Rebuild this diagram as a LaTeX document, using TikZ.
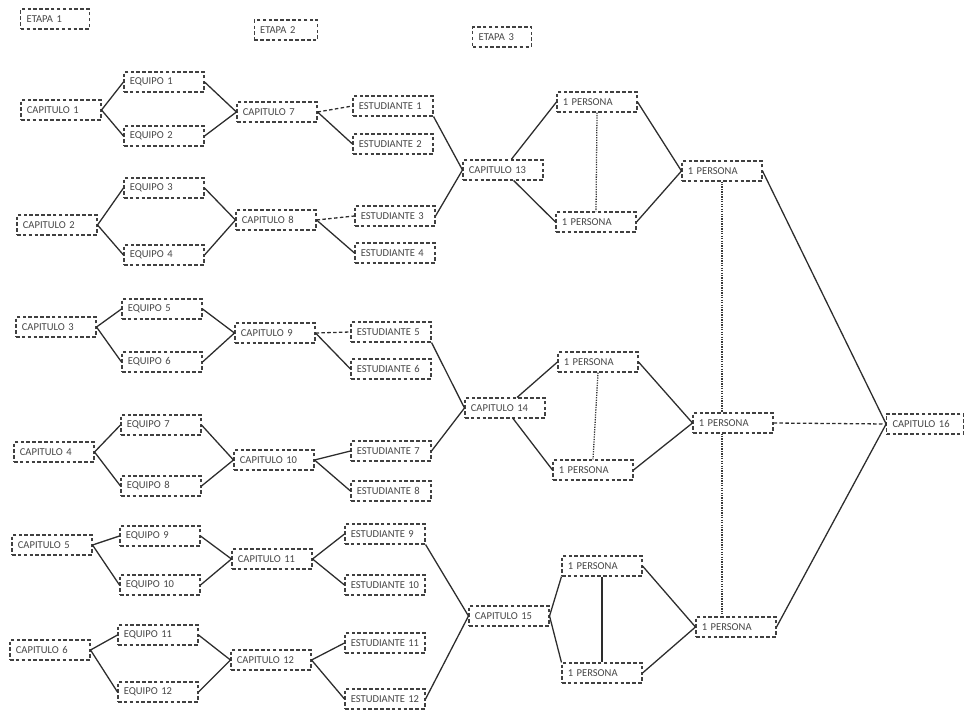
\documentclass[tikz,border=0pt]{standalone}
\usepackage{fontspec}
\setmainfont{Carlito}
\begin{document}
\begin{tikzpicture}[x=0.03cm,y=-0.03cm,
  caja/.style={draw=gray!50!black,densely dashed,line width=0.9pt,fill=white,text=gray!55!black,font=\small,
    text width=2.05cm,align=left,inner xsep=0.175cm,minimum height=0.6cm},
  etapa/.style={caja,text width=#1},
  linea/.style={draw=gray!35!black,line width=1.1pt},
  guiones/.style={linea,densely dashed},
  puntos/.style={draw=gray!45!black,line width=1.1pt,densely dotted}]
\useasboundingbox (0,0) rectangle (965,713);
% etapas
\node[etapa=1.7cm] (et1) at (55,19) {ETAPA 1};
\node[etapa=1.55cm] (et2) at (286,30) {ETAPA 2};
\node[etapa=1.4cm] (et3) at (502,37) {ETAPA 3};
% capitulos 1-6
\node[caja] (c1) at (61,110) {CAPITULO 1};
\node[caja] (c2) at (57,225) {CAPITULO 2};
\node[caja] (c3) at (56,327) {CAPITULO 3};
\node[caja] (c4) at (54,452) {CAPITULO 4};
\node[caja] (c5) at (52,545) {CAPITULO 5};
\node[caja] (c6) at (50,650) {CAPITULO 6};
% equipos
\node[caja] (q1) at (164,82) {EQUIPO 1};
\node[caja] (q2) at (164,136) {EQUIPO 2};
\node[caja] (q3) at (164,188) {EQUIPO 3};
\node[caja] (q4) at (164,255) {EQUIPO 4};
\node[caja] (q5) at (162,309) {EQUIPO 5};
\node[caja] (q6) at (162,362) {EQUIPO 6};
\node[caja] (q7) at (161,425) {EQUIPO 7};
\node[caja] (q8) at (161,486) {EQUIPO 8};
\node[caja] (q9) at (160,536) {EQUIPO 9};
\node[caja] (q10) at (160,585) {EQUIPO 10};
\node[caja] (q11) at (158,635) {EQUIPO 11};
\node[caja] (q12) at (158,692) {EQUIPO 12};
% capitulos 7-12
\node[caja] (c7) at (277,112) {CAPITULO 7};
\node[caja] (c8) at (276,220) {CAPITULO 8};
\node[caja] (c9) at (275,333) {CAPITULO 9};
\node[caja] (c10) at (274,460) {CAPITULO 10};
\node[caja] (c11) at (272,559) {CAPITULO 11};
\node[caja] (c12) at (271,660) {CAPITULO 12};
% estudiantes
\node[caja] (e1) at (393,106) {ESTUDIANTE 1};
\node[caja] (e2) at (393,144) {ESTUDIANTE 2};
\node[caja] (e3) at (395,216) {ESTUDIANTE 3};
\node[caja] (e4) at (395,253) {ESTUDIANTE 4};
\node[caja] (e5) at (391,332) {ESTUDIANTE 5};
\node[caja] (e6) at (391,369) {ESTUDIANTE 6};
\node[caja] (e7) at (391,451) {ESTUDIANTE 7};
\node[caja] (e8) at (391,491) {ESTUDIANTE 8};
\node[caja] (e9) at (385,534) {ESTUDIANTE 9};
\node[caja] (e10) at (385,585) {ESTUDIANTE 10};
\node[caja] (e11) at (385,643) {ESTUDIANTE 11};
\node[caja] (e12) at (385,699) {ESTUDIANTE 12};
% capitulos 13-15
\node[caja] (c13) at (503,170) {CAPITULO 13};
\node[caja] (c14) at (505,408) {CAPITULO 14};
\node[caja] (c15) at (509,616) {CAPITULO 15};
% personas
\node[caja] (p1) at (597,102) {1 PERSONA};
\node[caja] (p2) at (596,222) {1 PERSONA};
\node[caja] (p3) at (598,362) {1 PERSONA};
\node[caja] (p4) at (593,470) {1 PERSONA};
\node[caja] (p5) at (602,566) {1 PERSONA};
\node[caja] (p6) at (602,673) {1 PERSONA};
\node[caja] (pa) at (722,171) {1 PERSONA};
\node[caja] (pb) at (733,423) {1 PERSONA};
\node[caja] (pc) at (736,627) {1 PERSONA};
\node[caja,text width=1.95cm] (c16) at (925,424) {CAPITULO 16};
% etapa 1
\foreach \c/\a/\b/\d in {c1/q1/q2/c7,c2/q3/q4/c8,c3/q5/q6/c9,c4/q7/q8/c10,c5/q9/q10/c11,c6/q11/q12/c12}{
  \draw[linea] (\c.east) -- (\a.west);
  \draw[linea] (\c.east) -- (\b.west);
  \draw[linea] (\a.east) -- (\d.west);
  \draw[linea] (\b.east) -- (\d.west);
}
% etapa 2
\foreach \c/\a/\b in {c7/e1/e2,c8/e3/e4,c9/e5/e6}{
  \draw[guiones] (\c.east) -- (\a.west);
  \draw[linea] (\c.east) -- (\b.west);
}
\foreach \c/\a/\b in {c10/e7/e8,c11/e9/e10,c12/e11/e12}{
  \draw[linea] (\c.east) -- (\a.west);
  \draw[linea] (\c.east) -- (\b.west);
}
\draw[linea] (e1.south east) -- (c13.west);
\draw[linea] (e3.east) -- (c13.west);
\draw[linea] (e5.south east) -- (c14.west);
\draw[linea] (e7.east) -- (c14.west);
\draw[linea] (e9.south east) -- (c15.west);
\draw[linea] (e12.east) -- (c15.west);
% etapa 3
\draw[linea] (c13) -- (p1.west);
\draw[linea] (c13) -- (p2.west);
\draw[linea] (c14) -- (p3.west);
\draw[linea] (c14) -- (p4.west);
\draw[linea] (c15.east) -- (p5.south west);
\draw[linea] (c15.east) -- (p6.north west);
\draw[linea] (p1.east) -- (pa.west);
\draw[linea] (p2.east) -- (pa.west);
\draw[linea] (p3.east) -- (pb.west);
\draw[linea] (p4.east) -- (pb.west);
\draw[linea] (p5.east) -- (pc.west);
\draw[linea] (p6.east) -- (pc.west);
\draw[puntos] (p1.south) -- (p2.north);
\draw[puntos] (p3.south) -- (p4.north);
\draw[linea] (p5.south) -- (p6.north);
\draw[puntos] (pa.south) -- (pa.south |- pb.north);
\draw[puntos] (pa.south |- pb.south) -- (pa.south |- pc.north);
\draw[linea] (pa.east) -- (c16.west);
\draw[guiones] (pb.east) -- (c16.west);
\draw[linea] (pc.east) -- (c16.west);
\end{tikzpicture}
\end{document}
